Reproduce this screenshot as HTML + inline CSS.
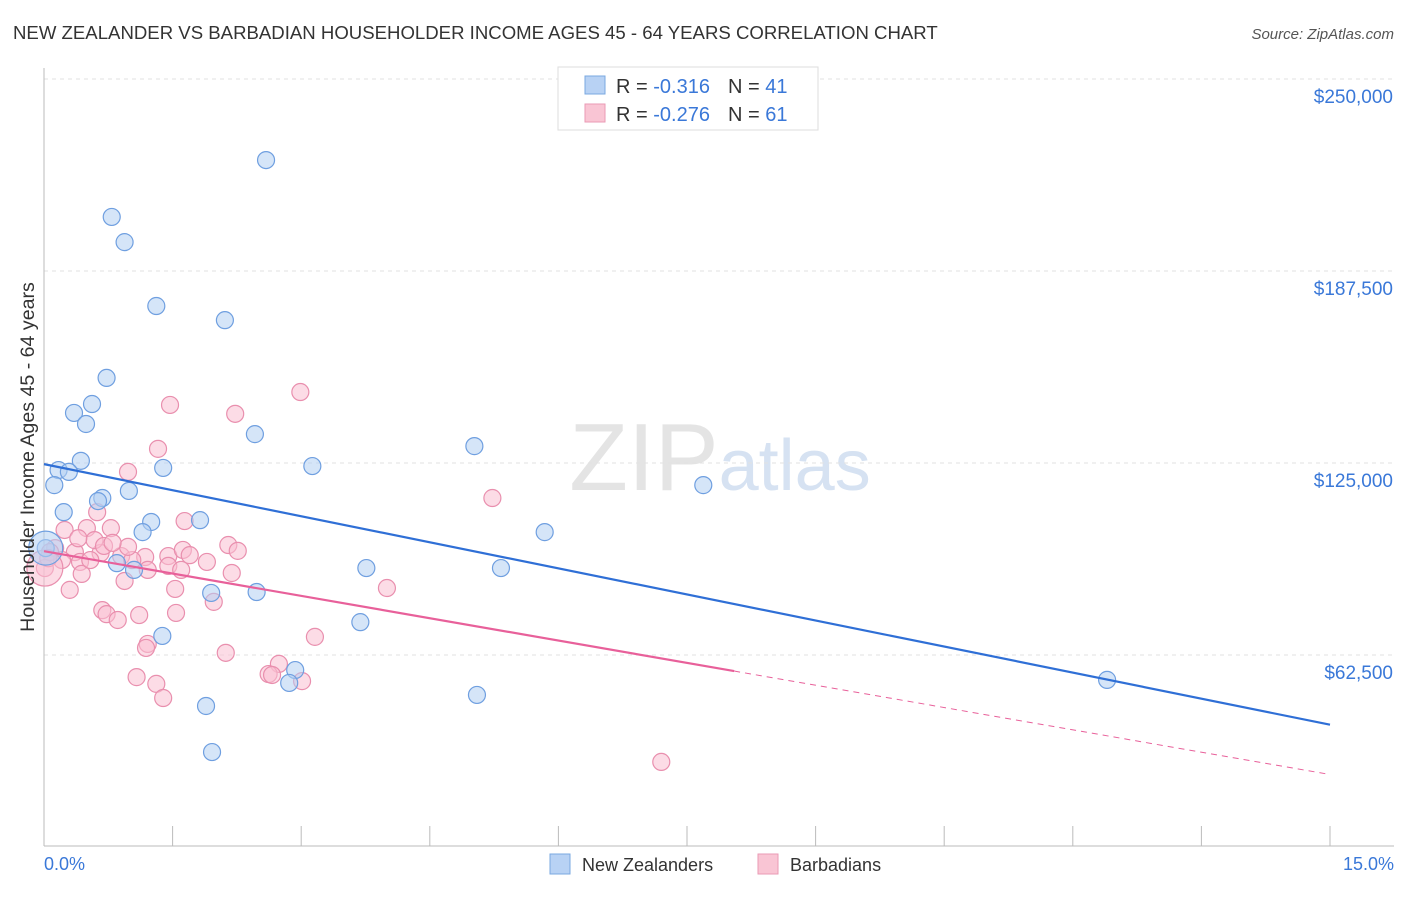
<!DOCTYPE html>
<html><head><meta charset="utf-8"><style>
body{margin:0;background:#fff;font-family:"Liberation Sans",sans-serif;}
svg text{font-family:"Liberation Sans",sans-serif;}
</style></head><body>
<svg id="chart" width="1406" height="892" xmlns="http://www.w3.org/2000/svg">
<text x="13" y="39" font-size="18.6" fill="#333">NEW ZEALANDER VS BARBADIAN HOUSEHOLDER INCOME AGES 45 - 64 YEARS CORRELATION CHART</text>
<text x="1394" y="39" font-size="15" fill="#555" text-anchor="end" font-style="italic">Source: ZipAtlas.com</text>
<text x="720" y="490" font-size="96" text-anchor="middle" fill="#e4e4e4" font-family="Liberation Serif">ZIP<tspan fill="#d6e2f2" font-family="Liberation Sans" font-size="72">atlas</tspan></text>
<g id="grid"></g>
<g id="axes"></g>
<g id="pts"></g>
<g id="lines"></g>
<text transform="translate(34,457) rotate(-90)" font-size="19.6" fill="#333" text-anchor="middle">Householder Income Ages 45 - 64 years</text>
<text x="44" y="870" font-size="18" fill="#3a78d8">0.0%</text>
<text x="1394" y="870" font-size="18" fill="#3a78d8" text-anchor="end">15.0%</text>
<g>
<rect x="558" y="67" width="260" height="63" fill="#fff" stroke="#ddd"/>
<rect x="585" y="76" width="20" height="18" fill="#b8d2f4" stroke="#7aa8e0"/>
<rect x="585" y="104" width="20" height="18" fill="#f9c5d4" stroke="#ea9ab4"/>
<text x="616" y="93" font-size="20" fill="#333">R = <tspan fill="#3a78d8">-0.316</tspan><tspan dx="18">N = </tspan><tspan fill="#3a78d8">41</tspan></text>
<text x="616" y="121" font-size="20" fill="#333">R = <tspan fill="#3a78d8">-0.276</tspan><tspan dx="18">N = </tspan><tspan fill="#3a78d8">61</tspan></text>
</g>
<g>
<rect x="550" y="854" width="20" height="20" fill="#b8d2f4" stroke="#7aa8e0"/>
<text x="582" y="871" font-size="18" fill="#333">New Zealanders</text>
<rect x="758" y="854" width="20" height="20" fill="#f9c5d4" stroke="#ea9ab4"/>
<text x="790" y="871" font-size="18" fill="#333">Barbadians</text>
</g>
</svg>
<script>
const yTicks=[250000,187500,125000,62500];
const yTickLabels=["$250,000","$187,500","$125,000","$62,500"];
const blueX=[2.59,0.79,0.94,1.31,2.11,0.73,0.56,0.35,0.49,2.46,5.02,0.43,1.39,3.13,0.17,0.29,0.12,0.99,0.68,0.63,7.69,0.23,1.25,1.82,5.84,1.15,0.85,1.05,3.76,5.33,1.95,2.48,3.69,1.38,2.93,2.86,12.40,5.05,1.89,1.96,0.02];
const blueY=[223600,205100,196900,176100,171500,152700,144200,141300,137700,134400,130500,125700,123400,124000,122700,122100,117800,115900,113600,112600,117800,109000,105800,106400,102500,102500,92400,90200,90800,90800,82700,83000,73200,68700,57600,53400,54400,49500,45900,30900,97300];
const pinkX=[2.99,1.47,2.23,1.33,0.98,5.23,1.64,0.62,0.24,0.50,0.78,2.15,2.26,0.13,0.36,0.66,0.90,1.18,1.45,1.62,1.90,0.21,0.42,1.03,1.21,1.45,1.60,2.19,0.44,0.94,1.53,4.00,0.30,1.98,0.68,0.73,0.86,1.11,1.54,3.16,1.21,1.19,2.12,2.74,2.62,2.66,3.01,1.08,1.31,1.39,7.20,0.01,0.59,0.70,0.54,0.98,0.07,0.40,0.80,1.70,0.05];
const pinkY=[148100,143900,141000,129600,122100,113600,106100,109000,103200,103800,103800,98300,96400,97300,96000,95700,94700,94400,94700,96700,92800,93400,92800,93400,90200,91500,90200,89200,88900,86600,84000,84300,83700,79800,77100,75800,73900,75500,76200,68400,66100,64800,63200,59600,56300,56000,54000,55300,53100,48500,27700,90800,99900,98000,93400,97700,96000,100500,99000,95000,94000];
const bigBlue=[0.02]; const bigBlueY=[97300];
const bigPink=[0.01]; const bigPinkY=[90800];
const pinkSolidEnd=8.05;
const X0=44,X1=1330,XMAX=15;
const xs=v=>X0+v/XMAX*(X1-X0);
const ys=v=>79+(250000-v)/62500*192;
const NS="http://www.w3.org/2000/svg";
function mk(tag,attrs,parent){const e=document.createElementNS(NS,tag);for(const k in attrs)e.setAttribute(k,attrs[k]);parent.appendChild(e);return e;}
const grid=document.getElementById('grid'),axes=document.getElementById('axes'),pts=document.getElementById('pts'),lines=document.getElementById('lines');
yTicks.forEach((t,i)=>{
 const g=mk('line',{x1:44,x2:1394,y1:ys(t),y2:ys(t),stroke:'#e2e2e2','stroke-dasharray':'4,4'},grid);
 
 
 const tx=mk('text',{x:1393,y:ys(t)+24,'font-size':19,fill:'#3a78d8','text-anchor':'end'},axes);
 tx.textContent=yTickLabels[i];
 
 
});
const xa=mk('line',{x1:44,x2:1394,y1:846,y2:846,stroke:'#bbb'},axes);


const ya=mk('line',{x1:44,x2:44,y1:68,y2:846,stroke:'#bbb'},axes);


for(let i=0;i<=10;i++){const t=mk('line',{x1:xs(i*1.5),x2:xs(i*1.5),y1:826,y2:846,stroke:'#bbb'},axes);
 
 }
function dots(X,Y,r,fill,stroke,name){X.forEach((x,i)=>{const c=mk('circle',{cx:xs(x),cy:ys(Y[i]),r:r,fill:fill,'fill-opacity':0.55,stroke:stroke,'stroke-width':1.2},pts);
 
 });}
dots(pinkX,pinkY,8.5,'#f9c0d1','#e98fae','barbadian-point');
dots(bigPink,bigPinkY,18,'#f9c0d1','#e98fae','barbadian-point');
dots(blueX,blueY,8.5,'#b3cff3','#6f9fe0','new-zealander-point');
dots(bigBlue,bigBlueY,17,'#b3cff3','#6f9fe0','new-zealander-point');
function fit(X,Y){const n=X.length;let mx=0,my=0;X.forEach((x,i)=>{mx+=x;my+=Y[i]});mx/=n;my/=n;let sxy=0,sxx=0;X.forEach((x,i)=>{sxy+=(x-mx)*(Y[i]-my);sxx+=(x-mx)**2});const b=sxy/sxx;return [my-b*mx,b];}
const [ba,bb]=fit(blueX,blueY);
const bl=mk('line',{x1:xs(0),y1:ys(ba),x2:xs(15),y2:ys(ba+bb*15),stroke:'#2f6fd6','stroke-width':2.2},lines);


const [pa,pb]=fit(pinkX,pinkY);const pm=pinkSolidEnd;
const pl=mk('line',{x1:xs(0),y1:ys(pa),x2:xs(pm),y2:ys(pa+pb*pm),stroke:'#e8609a','stroke-width':2.2},lines);


const pd=mk('line',{x1:xs(pm),y1:ys(pa+pb*pm),x2:xs(15),y2:ys(pa+pb*15),stroke:'#e8609a','stroke-width':1,'stroke-dasharray':'6,5'},lines);


</script>
</body></html>
